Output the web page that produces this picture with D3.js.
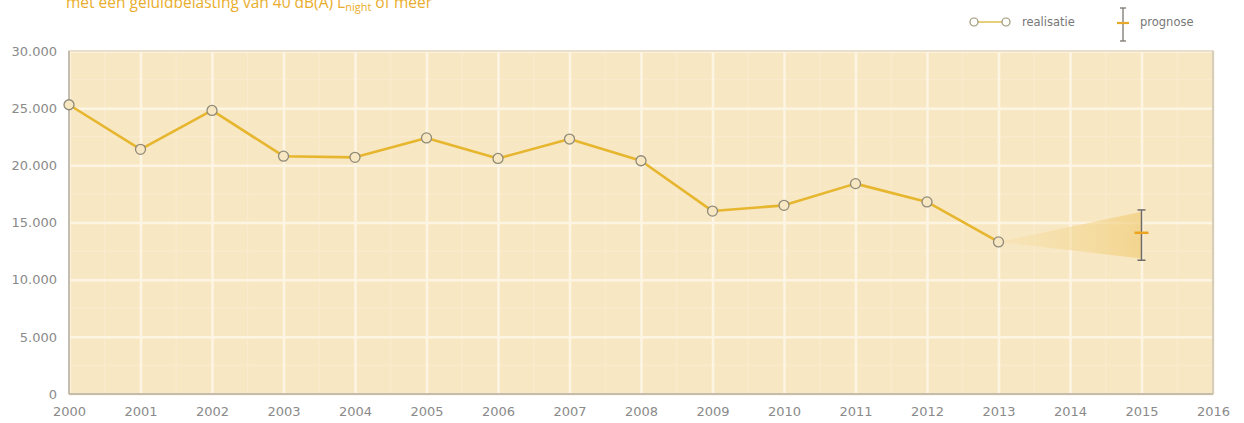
<!DOCTYPE html>
<html>
<head>
<meta charset="utf-8">
<script src="https://cdn.jsdelivr.net/npm/d3@7"></script>
<style>
  body { margin: 0; background: #fff; }
  svg { display: block; font-family: "DejaVu Sans", sans-serif; }
</style>
</head>
<body>
<div id="chart"></div>
<script>
// realisatie per jaar
const years = [2000, 2001, 2002, 2003, 2004, 2005, 2006, 2007, 2008, 2009, 2010, 2011, 2012, 2013];
const values = [25300, 21400, 24800, 20800, 20700, 22400, 20600, 22300, 20400, 16000, 16500, 18400, 16800, 13300];

// prognose 2015
const prognoseYear = [2015];
const prognoseMid = [14100];
const prognoseLow = [11700];
const prognoseHigh = [16100];

const xTicks = d3.range(2000, 2017);
const yTicks = [0, 5000, 10000, 15000, 20000, 25000, 30000];

const width = 1244, height = 423;
const margin = { top: 51, right: 31, bottom: 29, left: 69 };
const innerW = width - margin.left - margin.right;
const innerH = height - margin.top - margin.bottom;

const svg = d3.select('#chart').append('svg')
    .attr('width', width)
    .attr('height', height);

const x = d3.scaleLinear().domain([2000, 2016]).range([0, innerW]);
const y = d3.scaleLinear().domain([0, 30000]).range([innerH, 0]);
const fmt = d => d3.format(',')(d).replace(/,/g, '.');

// title (cut off at the top, as in the source)
const title = svg.append('text')
    .attr('x', 66).attr('y', 8)
    .attr('fill', '#e9ad2c')
    .attr('font-family', '"Open Sans", sans-serif')
    .attr('font-size', 15.5);
title.append('tspan').text('met een geluidbelasting van 40 dB(A) L');
title.append('tspan').attr('font-size', 11).attr('dy', 3).text('night');
title.append('tspan').attr('dy', -3).text(' of meer');

const g = svg.append('g').attr('transform', `translate(${margin.left},${margin.top})`);

// plot background
g.append('rect')
    .attr('width', innerW).attr('height', innerH)
    .attr('fill', '#f8e7c3');

// minor grid
g.append('g').selectAll('line')
    .data(d3.range(2000.5, 2016, 1))
    .join('line')
    .attr('x1', d => x(d)).attr('x2', d => x(d))
    .attr('y1', 0).attr('y2', innerH)
    .attr('stroke', '#faecd0').attr('stroke-width', 1);
g.append('g').selectAll('line')
    .data(d3.range(2500, 30000, 5000))
    .join('line')
    .attr('x1', 0).attr('x2', innerW)
    .attr('y1', d => y(d)).attr('y2', d => y(d))
    .attr('stroke', '#faecd0').attr('stroke-width', 1);

// major grid
g.append('g')
    .call(d3.axisBottom(x).tickValues(xTicks).tickSize(innerH).tickFormat(''))
    .call(a => a.select('.domain').remove())
    .selectAll('line').attr('stroke', '#fdf5e4').attr('stroke-width', 2.5);
g.append('g')
    .call(d3.axisLeft(y).tickValues(yTicks).tickSize(-innerW).tickFormat(''))
    .call(a => a.select('.domain').remove())
    .selectAll('line').attr('stroke', '#fdf5e4').attr('stroke-width', 2.5);

// frame
g.append('rect')
    .attr('width', innerW).attr('height', innerH)
    .attr('fill', 'none').attr('stroke', '#e2d8c2').attr('stroke-width', 1.5);
g.append('line').attr('x1', 0).attr('x2', 0).attr('y1', 0).attr('y2', innerH)
    .attr('stroke', '#c4bcac').attr('stroke-width', 2);
g.append('line').attr('x1', 0).attr('x2', innerW).attr('y1', innerH).attr('y2', innerH)
    .attr('stroke', '#c4bcac').attr('stroke-width', 2);
g.append('line').attr('x1', innerW).attr('x2', innerW).attr('y1', 0).attr('y2', innerH)
    .attr('stroke', '#cfc8b8').attr('stroke-width', 1.5);

// axis labels
const xAxis = g.append('g')
    .attr('transform', `translate(0,${innerH})`)
    .call(d3.axisBottom(x).tickValues(xTicks).tickSize(0).tickPadding(13).tickFormat(d3.format('d')));
xAxis.select('.domain').remove();
xAxis.selectAll('text')
    .attr('font-family', '"DejaVu Sans", sans-serif')
    .attr('fill', '#8a8a8a').attr('font-size', 13);

const yAxis = g.append('g')
    .call(d3.axisLeft(y).tickValues(yTicks).tickSize(0).tickPadding(12).tickFormat(fmt));
yAxis.select('.domain').remove();
yAxis.selectAll('text')
    .attr('font-family', '"DejaVu Sans", sans-serif')
    .attr('fill', '#8a8a8a').attr('font-size', 13);

// prognose cone
const defs = svg.append('defs');
const grad = defs.append('linearGradient').attr('id', 'cone')
    .attr('x1', '0%').attr('x2', '100%').attr('y1', '0%').attr('y2', '0%');
grad.append('stop').attr('offset', '0%').attr('stop-color', '#f5dea4').attr('stop-opacity', 0.35);
grad.append('stop').attr('offset', '100%').attr('stop-color', '#f0cd78').attr('stop-opacity', 0.7);

const last = values.length - 1;
const conePts = [
    [x(years[last]), y(values[last])],
    [x(prognoseYear[0]), y(prognoseHigh[0] - 150)],
    [x(prognoseYear[0]), y(prognoseLow[0] + 150)]
];
g.append('path')
    .attr('d', d3.line()(conePts) + 'Z')
    .attr('fill', 'url(#cone)');

// line
const pts = years.map((yr, i) => [yr, values[i]]);
g.append('path')
    .datum(pts)
    .attr('fill', 'none')
    .attr('stroke', '#e6b62e')
    .attr('stroke-width', 2.6)
    .attr('stroke-linejoin', 'round')
    .attr('d', d3.line().x(d => x(d[0])).y(d => y(d[1])));

// markers
g.selectAll('circle.pt')
    .data(pts)
    .join('circle')
    .attr('class', 'pt')
    .attr('cx', d => x(d[0])).attr('cy', d => y(d[1]))
    .attr('r', 5)
    .attr('fill', '#f8e7c3')
    .attr('stroke', '#8f8a78')
    .attr('stroke-width', 1.3);

// error bar
prognoseYear.forEach((yr, i) => {
    const cx = x(yr);
    g.append('line').attr('x1', cx).attr('x2', cx)
        .attr('y1', y(prognoseHigh[i])).attr('y2', y(prognoseLow[i]))
        .attr('stroke', '#6f6b66').attr('stroke-width', 1.5);
    [prognoseHigh[i], prognoseLow[i]].forEach(v => {
        g.append('line').attr('x1', cx - 4).attr('x2', cx + 4)
            .attr('y1', y(v)).attr('y2', y(v))
            .attr('stroke', '#6f6b66').attr('stroke-width', 1.5);
    });
    g.append('line').attr('x1', cx - 7).attr('x2', cx + 7)
        .attr('y1', y(prognoseMid[i])).attr('y2', y(prognoseMid[i]))
        .attr('stroke', '#eba320').attr('stroke-width', 2.5);
});

// legend
const lg = svg.append('g');
lg.append('line').attr('x1', 974).attr('x2', 1005).attr('y1', 22).attr('y2', 22)
    .attr('stroke', '#d9b43a').attr('stroke-width', 1.3);
[974, 1006].forEach(cx => {
    lg.append('circle').attr('cx', cx).attr('cy', 22).attr('r', 4)
        .attr('fill', '#fff').attr('stroke', '#9b9476').attr('stroke-width', 1.2);
});
lg.append('text').attr('x', 1022).attr('y', 26).attr('font-size', 11.5).attr('fill', '#777').text('realisatie');

lg.append('line').attr('x1', 1123).attr('x2', 1123).attr('y1', 8).attr('y2', 41)
    .attr('stroke', '#7a7670').attr('stroke-width', 1.3);
[8, 41].forEach(yy => {
    lg.append('line').attr('x1', 1120).attr('x2', 1126).attr('y1', yy).attr('y2', yy)
        .attr('stroke', '#7a7670').attr('stroke-width', 1.3);
});
lg.append('line').attr('x1', 1117).attr('x2', 1129).attr('y1', 23).attr('y2', 23)
    .attr('stroke', '#e6a82a').attr('stroke-width', 2.2);
lg.append('text').attr('x', 1140).attr('y', 26).attr('font-size', 11.5).attr('fill', '#777').text('prognose');
</script>
</body>
</html>
